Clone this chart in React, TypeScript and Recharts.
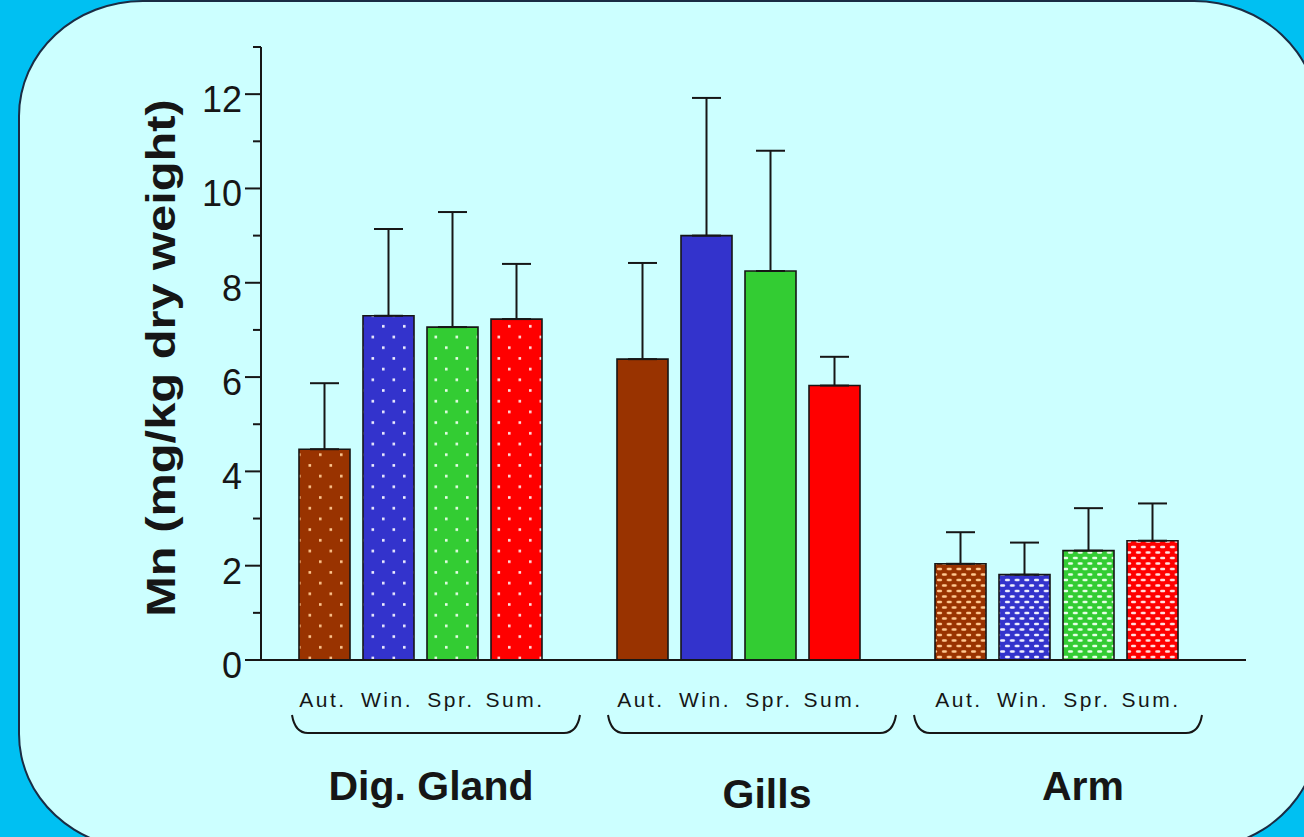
import React from 'react';
import { BarChart, Bar, XAxis, YAxis, Cell, ErrorBar } from 'recharts';

// ---- data ----
const tissues = ['Dig. Gland', 'Gills', 'Arm'];
const seasons = ['Aut.', 'Win.', 'Spr.', 'Sum.'];
const seasonKeys = ['aut', 'win', 'spr', 'sum'];
const autMean = [4.47, 6.38, 2.04];
const winMean = [7.3, 9.0, 1.81];
const sprMean = [7.06, 8.25, 2.32];
const sumMean = [7.23, 5.82, 2.53];
const autSd = [1.4, 2.04, 0.67];
const winSd = [1.84, 2.92, 0.68];
const sprSd = [2.44, 2.55, 0.9];
const sumSd = [1.17, 0.61, 0.79];
const yTicks = [0, 1, 2, 3, 4, 5, 6, 7, 8, 9, 10, 11, 12, 13];
const yAxisTitle = 'Mn (mg/kg dry weight)';

const means = [autMean, winMean, sprMean, sumMean];
const sds = [autSd, winSd, sprSd, sumSd];

const data = tissues.map((t, i) => {
  const row: any = { tissue: t };
  seasonKeys.forEach((k, j) => {
    row[k] = means[j][i];
    row[k + 'Err'] = [0, sds[j][i]];
  });
  return row;
});

// ---- style / layout ----
const W = 1304;
const H = 837;
const PLOT_LEFT = 261;
const PLOT_TOP = 47;
const PLOT_BOTTOM = 660;
const PLOT_RIGHT = 1246;
const BAR_SIZE = 51;
const BAR_GAP = 13;
const FONT = '"Liberation Sans", Arial, Helvetica, sans-serif';
const INK = '#161616';
const seasonColors = ['#993300', '#3333cc', '#33cc33', '#ff0000'];
const dotColors = ['#ffc890', '#f0f0ff', '#e8ffe8', '#ffe0e0'];
const tissuePattern = ['dots', 'solid', 'bricks'];
const nameDx = [11, 29, 27];
const nameDy = [0, 8, 0];
const braceDx = [16, 14, 2];
const BRACE_HALF = 144;

const barCenterOffset = (j: number) =>
  -((4 * BAR_SIZE + 3 * BAR_GAP) / 2) + j * (BAR_SIZE + BAR_GAP) + BAR_SIZE / 2;

const fillFor = (tissueIdx: number, seasonIdx: number) => {
  const p = tissuePattern[tissueIdx];
  if (p === 'solid') return seasonColors[seasonIdx];
  return `url(#${p}-${seasonIdx})`;
};

const YTick = (props: any) => {
  const { y, payload } = props;
  const v = payload.value;
  const major = v % 2 === 0;
  return (
    <g>
      <line
        x1={PLOT_LEFT - (major ? 16 : 8)}
        x2={PLOT_LEFT}
        y1={y}
        y2={y}
        stroke={INK}
        strokeWidth={2}
      />
      {major && (
        <text
          x={PLOT_LEFT - 19}
          y={y + 18}
          textAnchor="end"
          fontFamily={FONT}
          fontSize={36}
          fill={INK}
        >
          {v}
        </text>
      )}
    </g>
  );
};

const bracePath = (cx: number) => {
  const L = cx - BRACE_HALF;
  const R = cx + BRACE_HALF;
  const top = 715;
  const bot = 733;
  return `M ${L} ${top} Q ${L + 3} ${bot} ${L + 16} ${bot} L ${R - 16} ${bot} Q ${R - 3} ${bot} ${R} ${top}`;
};

const XTick = (props: any) => {
  const { x, payload } = props;
  const i = tissues.indexOf(payload.value);
  return (
    <g>
      {seasons.map((s, j) => (
        <text
          key={s}
          x={x + barCenterOffset(j) - 1}
          y={707}
          textAnchor="middle"
          fontFamily={FONT}
          fontSize={21}
          letterSpacing={2.5}
          fill={INK}
        >
          {s}
        </text>
      ))}
      <path d={bracePath(x + braceDx[i])} fill="none" stroke={INK} strokeWidth={2} />
      <text
        x={x + nameDx[i]}
        y={800 + nameDy[i]}
        textAnchor="middle"
        fontFamily={FONT}
        fontSize={41}
        fontWeight="bold"
        fill={INK}
      >
        {payload.value}
      </text>
    </g>
  );
};

const YTitle = () => (
  <text
    transform={`translate(175, 358) rotate(-90) scale(1.22, 1)`}
    textAnchor="middle"
    fontFamily={FONT}
    fontSize={40}
    fontWeight="bold"
    fill={INK}
  >
    {yAxisTitle}
  </text>
);

export default function App() {
  return (
    <div
      style={{
        position: 'fixed',
        left: 0,
        top: 0,
        width: W,
        height: H,
        overflow: 'hidden',
        background: '#00c0f2',
      }}
    >
      <div
        style={{
          position: 'absolute',
          left: 18,
          top: 0,
          width: 1301,
          height: 850,
          boxSizing: 'border-box',
          border: '2px solid #1a2c44',
          borderRadius: '125px / 116px',
          background: '#ccffff',
        }}
      />
      <div style={{ position: 'absolute', left: 0, top: 0 }}>
        <BarChart
          width={W}
          height={H}
          data={data}
          margin={{ top: PLOT_TOP, right: W - PLOT_RIGHT, left: PLOT_LEFT - 80, bottom: 0 }}
          barGap={BAR_GAP}
        >
          <defs>
            {seasonColors.map((c, j) => (
              <pattern
                key={'d' + j}
                id={`dots-${j}`}
                width={21}
                height={21.4}
                patternUnits="userSpaceOnUse"
              >
                <rect width={21} height={21.4} fill={c} />
                <rect x={4} y={4} width={2.6} height={2.6} fill={dotColors[j]} />
                <rect x={14.5} y={14.7} width={2.6} height={2.6} fill={dotColors[j]} />
              </pattern>
            ))}
            {seasonColors.map((c, j) => (
              <pattern
                key={'b' + j}
                id={`bricks-${j}`}
                width={9.7}
                height={11}
                patternUnits="userSpaceOnUse"
              >
                <rect width={9.7} height={11} fill={c} />
                <rect x={1} y={1.3} width={5} height={2.4} rx={1.2} fill={dotColors[j]} />
                <rect x={5.85} y={6.8} width={5} height={2.4} rx={1.2} fill={dotColors[j]} />
                <rect x={-3.85} y={6.8} width={5} height={2.4} rx={1.2} fill={dotColors[j]} />
              </pattern>
            ))}
          </defs>
          <XAxis
            dataKey="tissue"
            height={H - PLOT_BOTTOM}
            interval={0}
            padding={{ left: 0, right: 31 }}
            axisLine={{ stroke: INK, strokeWidth: 2 }}
            tickLine={false}
            tick={<XTick />}
          />
          <YAxis
            width={80}
            domain={[0, 13]}
            ticks={yTicks}
            interval={0}
            allowDataOverflow
            axisLine={{ stroke: INK, strokeWidth: 2 }}
            tickLine={false}
            tick={<YTick />}
            label={{ content: () => <YTitle /> }}
          />
          {seasonKeys.map((k, j) => (
            <Bar key={k} dataKey={k} barSize={BAR_SIZE} isAnimationActive={false}>
              {data.map((_, i) => (
                <Cell key={i} fill={fillFor(i, j)} stroke={INK} strokeWidth={1.6} />
              ))}
              <ErrorBar
                dataKey={k + 'Err'}
                width={14.5}
                strokeWidth={2}
                stroke={INK}
                direction="y"
              />
            </Bar>
          ))}
        </BarChart>
      </div>
    </div>
  );
}
